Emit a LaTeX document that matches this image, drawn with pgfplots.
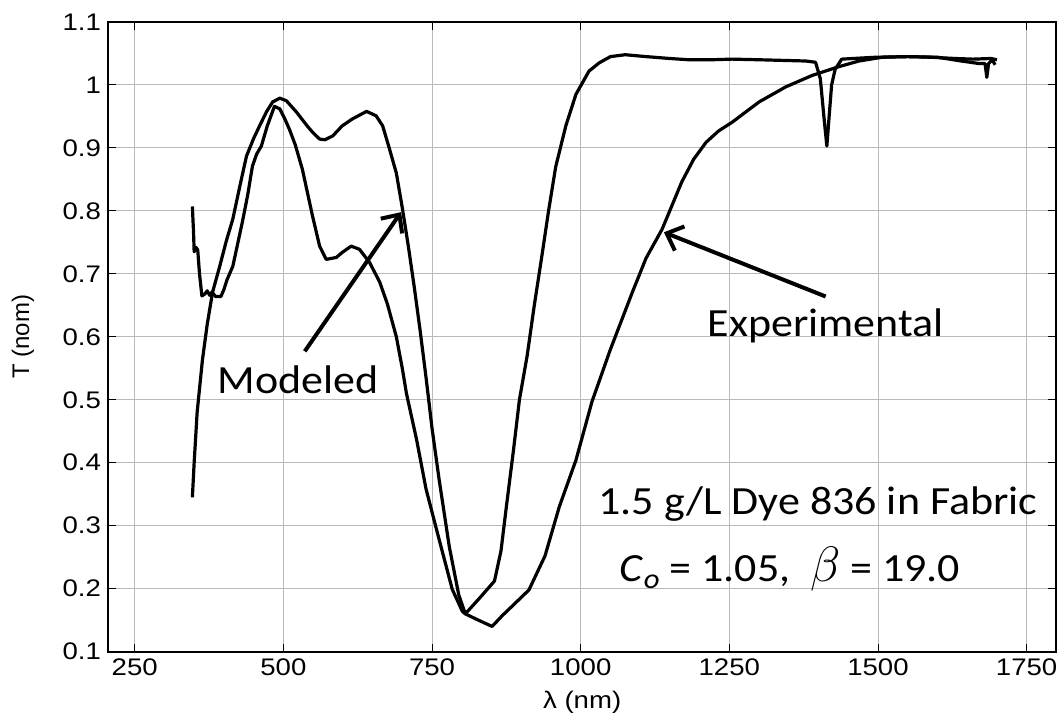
\documentclass[border=0pt]{standalone}
\usepackage{pgfplots}
\pgfplotsset{compat=1.18}
\usepackage{fontspec}
\setmainfont{Liberation Sans}[FakeStretch=1.15]
\newfontfamily\plainsans{Liberation Sans}
\newfontfamily\calfont{Carlito}[FakeStretch=1.1]
\usetikzlibrary{arrows.meta}

\pgfplotstableread{
x y
347 0.807
349 0.765
350 0.735
353 0.742
356 0.738
359 0.700
363 0.665
368 0.668
372 0.673
376 0.666
380 0.671
386 0.664
395 0.664
400 0.675
405 0.690
415 0.712
431 0.782
440 0.825
448 0.871
455 0.890
463 0.903
473 0.935
485 0.966
494 0.962
503 0.945
510 0.930
520 0.905
532 0.866
549 0.792
561 0.744
572 0.723
589 0.726
599 0.734
614 0.744
628 0.739
645 0.718
662 0.687
675 0.652
690 0.600
700 0.550
707 0.510
724 0.437
740 0.358
762 0.278
784 0.199
801 0.164
806 0.160
828 0.150
851 0.140
868 0.157
890 0.177
913 0.198
940 0.252
964 0.330
992 0.404
1019 0.497
1050 0.580
1087 0.671
1110 0.725
1137 0.771
1170 0.846
1190 0.882
1211 0.909
1232 0.927
1255 0.941
1300 0.973
1345 0.997
1389 1.015
1434 1.029
1468 1.038
1507 1.044
1550 1.045
1600 1.044
1640 1.038
1670 1.034
1680 1.034
1683 1.012
1686 1.034
1692 1.040
1697 1.032
}\experimental

\pgfplotstableread{
x y
347 0.345
350 0.400
355 0.480
364 0.564
372 0.620
381 0.671
393 0.712
404 0.752
415 0.787
427 0.840
438 0.887
450 0.915
460 0.935
472 0.958
482 0.973
494 0.979
505 0.975
522 0.957
540 0.935
549 0.925
561 0.914
570 0.913
583 0.919
599 0.935
616 0.946
640 0.958
656 0.951
667 0.935
678 0.900
690 0.860
700 0.805
710 0.745
720 0.680
730 0.610
740 0.535
750 0.455
762 0.373
779 0.267
795 0.190
806 0.160
830 0.185
855 0.212
866 0.260
875 0.330
887 0.420
897 0.500
910 0.570
922 0.650
935 0.730
946 0.800
958 0.870
975 0.935
992 0.985
1014 1.022
1031 1.035
1050 1.045
1075 1.048
1110 1.045
1150 1.042
1182 1.040
1220 1.040
1255 1.041
1300 1.040
1340 1.039
1379 1.038
1395 1.036
1403 1.010
1410 0.940
1414 0.903
1417 0.940
1422 1.000
1428 1.025
1439 1.041
1496 1.044
1550 1.045
1590 1.044
1630 1.042
1660 1.041
1690 1.042
1700 1.040
}\modeled

\begin{document}
\begin{tikzpicture}
\fill[white] (-54pt,-33.5pt) rectangle (478pt,326pt);
\begin{axis}[
  at={(0,0)}, anchor=south west,
  scale only axis, width=474.5pt, height=315pt,
  xmin=205, xmax=1800, ymin=0.1, ymax=1.1,
  xtick={250,500,750,1000,1250,1500,1750},
  ytick={0.1,0.2,0.3,0.4,0.5,0.6,0.7,0.8,0.9,1,1.1},
  /pgf/number format/assume math mode=true,
  x tick label style={/pgf/number format/1000 sep={}},
  y tick label style={/pgf/number format/.cd, fixed, precision=1},
  tick label style={font=\fontsize{12}{14}\selectfont},
  grid=major,
  major grid style={gray!55, line width=0.5pt},
  axis line style={line width=1pt},
  tick style={black, line width=0.5pt},
  major tick length=4pt,
  clip=false,
]
\addplot[black, line width=1.6pt, line join=round] table[x=x,y=y] {\experimental};
\addplot[black, line width=1.6pt, line join=round] table[x=x,y=y] {\modeled};

\draw[line width=2pt, -{Straight Barb[length=7pt,width=13pt,line width=2pt]}] (axis cs:536,0.577) -- (axis cs:698,0.798);
\draw[line width=2pt, -{Straight Barb[length=7pt,width=13pt,line width=2pt]}] (axis cs:1412,0.664) -- (axis cs:1140,0.766);

\node[anchor=base, font=\calfont\fontsize{20}{24}\selectfont] at (axis cs:525,0.510) {Modeled};
\node[anchor=base, font=\calfont\fontsize{20}{24}\selectfont] at (axis cs:1412,0.601) {Experimental};
\node[anchor=base, font=\calfont\fontsize{20}{24}\selectfont] at (axis cs:1399,0.318) {1.5 g/L Dye 836 in Fabric};
\node[anchor=base, font=\calfont\fontsize{20}{24}\selectfont] at (axis cs:1352,0.211) {\itshape C\kern0.5pt\raisebox{-0.35ex}{\fontsize{14}{14}\selectfont o}\upshape\ = 1.05,\ \ {\fontsize{26}{26}\selectfont$\beta$} = 19.0};

\node[font=\fontsize{12}{14}\selectfont] at (axis description cs:0.5,-0.081) {λ (nm)};
\node[font=\plainsans\fontsize{12}{14}\selectfont, rotate=90] at (axis description cs:-0.0896,0.5) {T (nom)};
\end{axis}
\end{tikzpicture}
\end{document}
